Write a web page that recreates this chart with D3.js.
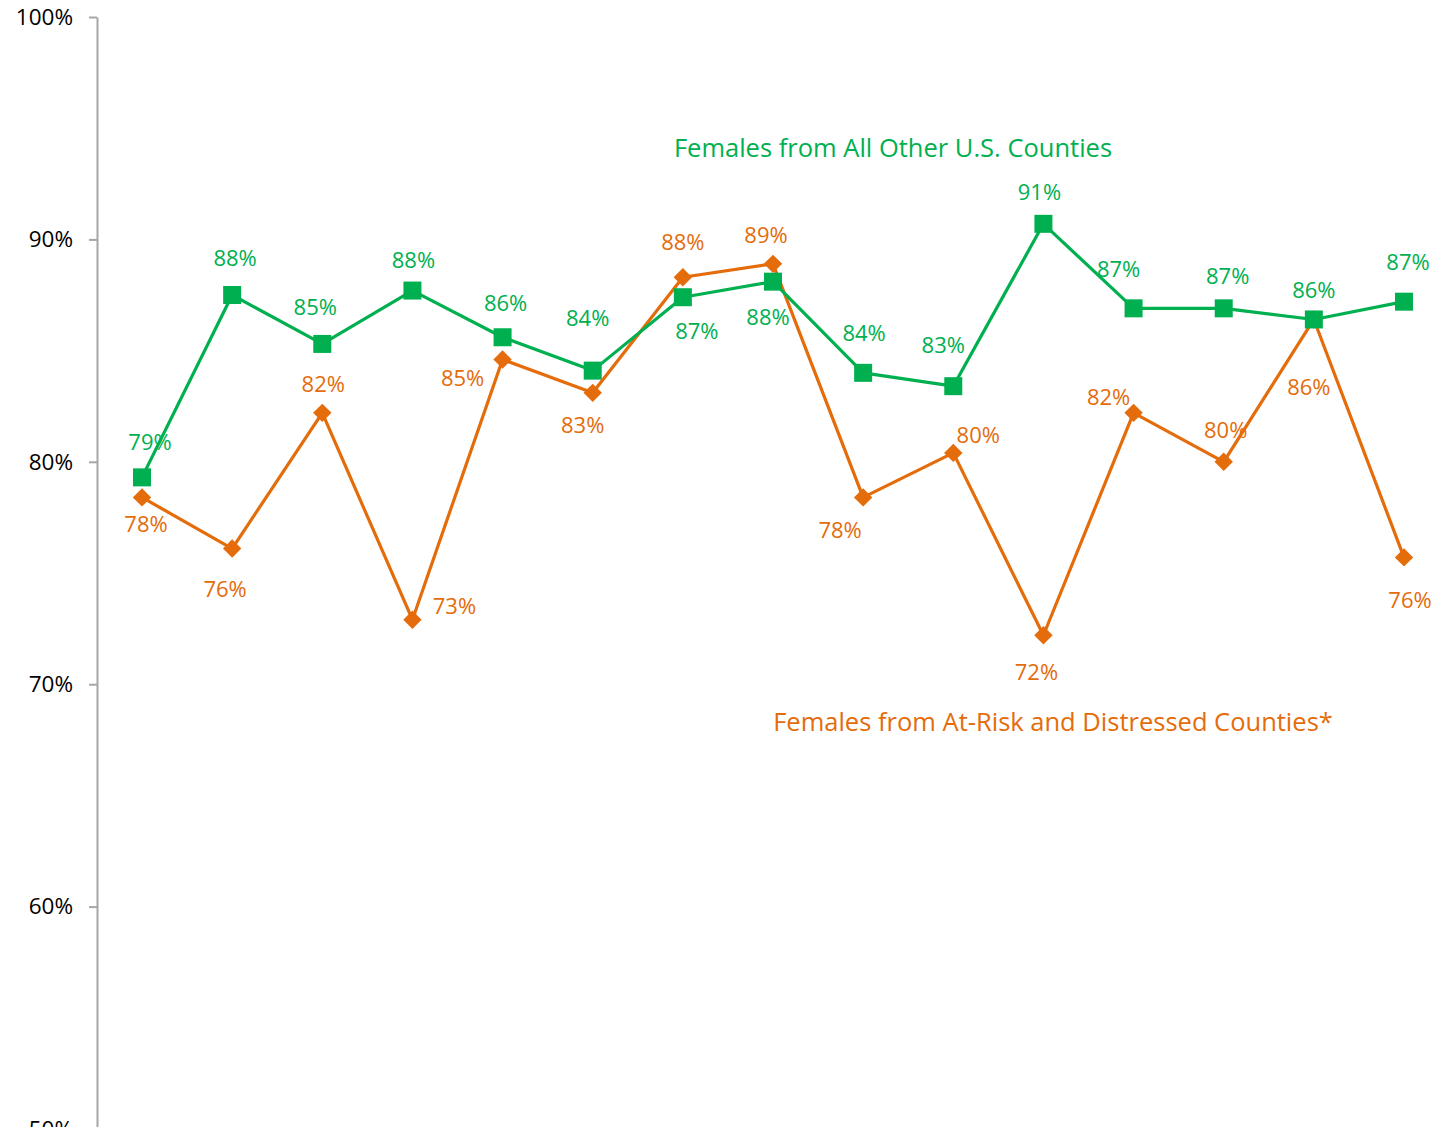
<!DOCTYPE html>
<html>
<head>
<meta charset="utf-8">
<script src="https://cdn.jsdelivr.net/npm/d3@7"></script>
<style>
  html, body { margin: 0; padding: 0; background: #fff; }
  svg { display: block; }
  text { font-family: "Open Sans", "Noto Sans", sans-serif; }
</style>
</head>
<body>
<svg id="chart" width="1449" height="1127"></svg>
<script>
// ---- Data ----
const categories = ["1","2","3","4","5","6","7","8","9","10","11","12","13","14","15"];
const otherCounties = [79.3, 87.5, 85.3, 87.7, 85.6, 84.1, 87.4, 88.1, 84.0, 83.4, 90.7, 86.9, 86.9, 86.4, 87.2];
const atRiskCounties = [78.4, 76.1, 82.2, 72.9, 84.6, 83.1, 88.3, 88.9, 78.4, 80.4, 72.2, 82.2, 80.0, 86.4, 75.7];
const yTicks = [50, 60, 70, 80, 90, 100];
const seriesNames = ["Females from All Other U.S. Counties", "Females from At-Risk and Distressed Counties*"];

// ---- Layout (label offsets relative to points) ----
const greenLabelOffsets = [[8,-36],[3,-38],[-7,-38],[1,-32],[3,-35],[-5,-54],[14,33],[-5,34],[1,-41],[-10,-42],[-4,-33],[-15,-40],[4,-33],[0,-30],[4,-41]];
const orangeLabelOffsets = [[4,26],[-7,39],[1,-30],[42,-15],[-40,18],[-10,31],[0,-36],[-7,-30],[-23,32],[25,-19],[-7,36],[-25,-17],[2,-33],[-5,67],[6,42]];

const GREEN = "#00B050", ORANGE = "#E46C0A";
const svg = d3.select("#chart");

const x = d3.scalePoint().domain(categories).range([142, 1404]);
const y = d3.scaleLinear().domain([50, 100]).range([1129, 17]);

// Y axis
const yAxis = d3.axisLeft(y).tickValues(yTicks).tickSize(8).tickSizeOuter(0).tickFormat(d => d + "%").tickPadding(16);
const gy = svg.append("g").attr("transform", "translate(97,0)").call(yAxis);
gy.select(".domain").attr("stroke", "#a6a6a6").attr("stroke-width", 2);
gy.selectAll(".tick line").attr("stroke", "#a6a6a6").attr("stroke-width", 2);
gy.selectAll(".tick text").attr("fill", "#000").style("font-size", "22.5px").attr("font-family", "'Open Sans', sans-serif");

const line = d3.line().x((d, i) => x(categories[i])).y(d => y(d));

svg.append("path").datum(atRiskCounties).attr("d", line)
  .attr("fill", "none").attr("stroke", ORANGE).attr("stroke-width", 3.2).attr("stroke-linejoin", "round");
svg.append("g").selectAll("rect").data(atRiskCounties).join("rect")
  .attr("x", -6.5).attr("y", -6.5).attr("width", 13).attr("height", 13)
  .attr("fill", ORANGE)
  .attr("transform", (d, i) => `translate(${x(categories[i])},${y(d)}) rotate(45)`);

svg.append("path").datum(otherCounties).attr("d", line)
  .attr("fill", "none").attr("stroke", GREEN).attr("stroke-width", 3.2).attr("stroke-linejoin", "round");
svg.append("g").selectAll("rect").data(otherCounties).join("rect")
  .attr("x", -9).attr("y", -9).attr("width", 18).attr("height", 18)
  .attr("fill", GREEN)
  .attr("transform", (d, i) => `translate(${x(categories[i])},${y(d)})`);

// Data labels
function labels(data, offs, color) {
  svg.append("g").selectAll("text").data(data).join("text")
    .attr("x", (d, i) => x(categories[i]) + offs[i][0])
    .attr("y", (d, i) => y(d) + offs[i][1])
    .attr("text-anchor", "middle").attr("dominant-baseline", "central")
    .attr("fill", color).style("font-size", "22px")
    .text(d => Math.round(d) + "%");
}
labels(otherCounties, greenLabelOffsets, GREEN);
labels(atRiskCounties, orangeLabelOffsets, ORANGE);

// Series names
svg.append("text").attr("x", 893).attr("y", 147).attr("text-anchor", "middle").attr("dominant-baseline", "central")
  .attr("fill", GREEN).style("font-size", "25.5px").text(seriesNames[0]);
svg.append("text").attr("x", 1053).attr("y", 721).attr("text-anchor", "middle").attr("dominant-baseline", "central")
  .attr("fill", ORANGE).style("font-size", "25.5px").text(seriesNames[1]);
</script>
</body>
</html>
